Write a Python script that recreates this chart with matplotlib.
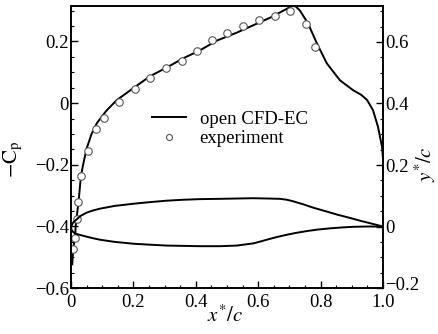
import matplotlib
matplotlib.use("Agg")
import matplotlib.pyplot as plt
import matplotlib.transforms as mtransforms
from matplotlib.ticker import MultipleLocator

plt.rcParams['font.family'] = ['Liberation Serif', 'DejaVu Serif']
plt.rcParams['mathtext.fontset'] = 'stix'

# CFD pressure distribution (-Cp vs x*/c)
cfd_x = [0.004, 0.007, 0.013, 0.016, 0.024, 0.032, 0.042, 0.051, 0.066, 0.083,
         0.1, 0.115, 0.147, 0.199, 0.253, 0.308, 0.359, 0.413, 0.468, 0.53, 0.583,
         0.638, 0.692, 0.708, 0.72, 0.734, 0.76, 0.788, 0.82, 0.862, 0.904,
         0.93, 0.949, 0.968, 0.984, 0.997, 1.0]
cfd_cp = [-0.523, -0.474, -0.432, -0.387, -0.323, -0.235, -0.185, -0.145, -0.1, -0.065,
          -0.042, -0.023, 0.01, 0.048, 0.087, 0.116, 0.145, 0.171, 0.203, 0.228, 0.252,
          0.277, 0.306, 0.315, 0.314, 0.30, 0.258, 0.194, 0.129, 0.074, 0.042,
          0.027, 0.01, -0.023, -0.077, -0.142, -0.18]

# experiment (-Cp)
exp_x = [0.007, 0.013, 0.018, 0.024, 0.032, 0.054, 0.079, 0.107, 0.155, 0.205,
         0.253, 0.304, 0.355, 0.403, 0.453, 0.501, 0.552, 0.604, 0.654, 0.702,
         0.752, 0.783]
exp_cp = [-0.474, -0.437, -0.375, -0.322, -0.235, -0.155, -0.084, -0.047, 0.005, 0.047,
          0.083, 0.115, 0.138, 0.168, 0.205, 0.228, 0.249, 0.271, 0.282, 0.298,
          0.257, 0.183]

# airfoil geometry (y*/c vs x*/c)
upper_x = [0.0, 0.003, 0.008, 0.018, 0.03, 0.05, 0.07, 0.093, 0.14, 0.2, 0.25, 0.307,
           0.36, 0.413, 0.478, 0.53, 0.584, 0.63, 0.67, 0.692, 0.712, 0.745, 0.777,
           0.815, 0.852, 0.89, 0.926, 0.965, 1.0]
upper_y = [-0.005, 0.006, 0.014, 0.023, 0.034, 0.045, 0.052, 0.058, 0.067, 0.074, 0.079,
           0.084, 0.087, 0.089, 0.09, 0.091, 0.092, 0.091, 0.09, 0.087, 0.082, 0.072,
           0.061, 0.05, 0.039, 0.029, 0.019, 0.009, 0.0]
lower_x = [0.0, 0.003, 0.008, 0.02, 0.035, 0.05, 0.07, 0.093, 0.14, 0.2, 0.25, 0.307,
           0.36, 0.413, 0.478, 0.531, 0.584, 0.61, 0.638, 0.665, 0.691, 0.72, 0.755,
           0.79, 0.83, 0.87, 0.905, 0.95, 1.0]
lower_y = [-0.005, -0.013, -0.019, -0.025, -0.029, -0.033, -0.038, -0.043, -0.05, -0.056,
           -0.059, -0.062, -0.063, -0.064, -0.064, -0.062, -0.055, -0.048, -0.04, -0.033,
           -0.027, -0.021, -0.015, -0.01, -0.006, -0.003, -0.001, 0.0, 0.0]

fig = plt.figure(figsize=(4.39, 3.34), dpi=100)
ax = fig.add_axes([0.1617, 0.1377, 0.7107, 0.8443])
ax2 = ax.twinx()

ax.plot(cfd_x, cfd_cp, color='black', lw=1.4, label='open CFD-EC')
ax.plot(exp_x, exp_cp, ls='none', marker='o', ms=5.4, mfc='white',
        mec='#555555', mew=0.8, label='experiment')

ax2.plot(upper_x, upper_y, color='black', lw=1.4)
ax2.plot(lower_x, lower_y, color='black', lw=1.4)

ax.set_xlim(0, 1.0)
ax.set_ylim(-0.6, 0.315)
ax2.set_ylim(-0.2, 0.717)

ax.set_xticks([0, 0.2, 0.4, 0.6, 0.8, 1.0])
ax.set_xticklabels(['0', '0.2', '0.4', '0.6', '0.8', '1.0'])
ax.set_yticks([-0.6, -0.4, -0.2, 0, 0.2])
ax.set_yticklabels(['\u22120.6', '\u22120.4', '\u22120.2', '0', '0.2'])
ax2.set_yticks([-0.2, 0, 0.2, 0.4, 0.6])
ax2.set_yticklabels(['\u22120.2', '0', '0.2', '0.4', '0.6'])
ax.xaxis.set_minor_locator(MultipleLocator(0.05))
ax.yaxis.set_minor_locator(MultipleLocator(0.05))
ax2.yaxis.set_minor_locator(MultipleLocator(0.05))

ax.tick_params(which='both', direction='in', top=False, right=False, labelsize=13.5)
ax.tick_params(axis='y', pad=1.5)
ax.tick_params(axis='x', pad=4)
ax.tick_params(which='major', length=5, width=1)
ax.tick_params(which='minor', length=2.5, width=0.8)
ax2.tick_params(which='both', direction='in', labelsize=13.5, pad=1.5)
ax2.tick_params(which='major', length=5, width=1)
ax2.tick_params(which='minor', length=2.5, width=0.8)

# lift the lowest right-hand label a little, as in the original
lift = mtransforms.ScaledTranslation(0, 3 / 72, fig.dpi_scale_trans)
bottom_label = ax2.get_yticklabels()[0]
bottom_label.set_transform(bottom_label.get_transform() + lift)

for a in (ax, ax2):
    for s in a.spines.values():
        s.set_linewidth(1.2)

ax.set_xlabel(r'$x^{\!*}\!/c$', fontsize=15)
ax.xaxis.set_label_coords(0.494, -0.1)
ax.xaxis.label.set_va('center')
ax.set_ylabel(r'$-\mathrm{C}_{\mathrm{p}}$', fontsize=15)
ax.yaxis.set_label_coords(-0.186, 0.455)
ax.yaxis.label.set_va('center')
ax2.set_ylabel(r'$y^{\!*}\!/c$', fontsize=15)
ax2.yaxis.set_label_coords(1.135, 0.44)
ax2.yaxis.label.set_va('center')

ax.legend(loc='upper left', bbox_to_anchor=(0.235, 0.655), frameon=False,
          fontsize=13.5, handlelength=1.8, handletextpad=0.75, labelspacing=0.12,
          borderaxespad=0, markerscale=0.8)

fig.savefig('out.png', dpi=100)
